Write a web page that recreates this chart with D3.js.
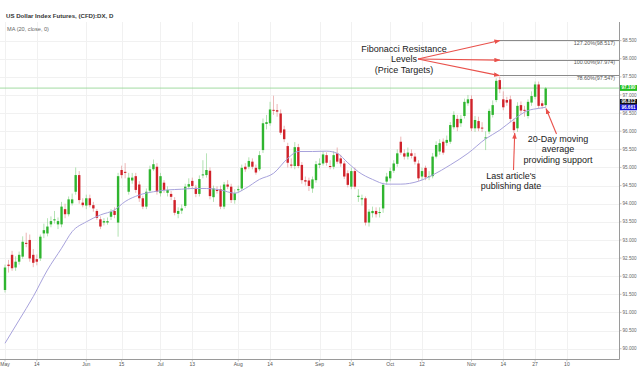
<!DOCTYPE html>
<html><head><meta charset="utf-8">
<script src="https://cdn.jsdelivr.net/npm/d3@7"></script>
<style>
body{margin:0;background:#fff;}
svg{display:block;font-family:"Liberation Sans",Arial,Helvetica,sans-serif;}
</style>
</head><body>
<svg id="c" width="640" height="369"></svg>
<script>
// ---- DATA (daily candles, US Dollar Index Futures, 1 May - 30 Nov 2018) ----
const opens=[91.62,92.32,92.59,92.24,92.40,92.54,92.92,93.00,92.59,92.47,
92.49,93.18,93.18,93.43,93.54,93.43,93.43,93.85,93.71,94.01,
94.33,94.79,94.03,93.95,94.15,93.96,93.80,93.57,93.48,93.48,
93.64,93.80,93.48,94.93,94.88,94.33,94.64,94.76,94.53,94.15,
93.92,94.36,94.95,95.02,94.29,94.58,94.30,94.27,94.10,93.72,
93.81,93.94,94.47,94.63,94.44,94.27,94.78,94.79,94.91,94.18,
94.38,94.40,93.92,94.53,94.47,94.10,94.38,94.42,95.02,95.02,
95.16,94.99,94.95,95.48,96.20,96.22,96.59,96.58,96.49,96.05,
95.59,95.08,95.04,95.56,95.07,94.65,94.64,94.42,94.65,95.07,
95.11,95.34,95.04,95.02,95.39,95.25,95.11,94.84,94.47,94.90,
94.19,94.12,94.15,93.48,93.74,93.80,93.75,93.87,94.61,94.70,
94.91,95.10,95.71,95.39,95.30,95.39,95.30,95.11,94.75,94.99,
94.74,94.76,95.30,95.44,95.71,95.68,95.71,96.11,96.34,96.22,
96.42,96.77,96.89,96.08,96.28,96.10,95.80,95.99,96.45,96.86,
97.41,96.88,96.86,96.88,96.26,96.08,96.72,96.59,96.42,96.79,
96.95,97.29,96.77,96.72];
const highs=[92.32,92.45,92.70,92.55,92.68,93.10,93.20,93.15,92.75,92.60,
93.15,93.45,93.60,93.65,93.80,93.62,94.05,94.00,94.20,94.28,
95.00,94.90,94.15,94.25,94.25,94.05,93.85,93.65,93.60,93.62,
93.85,93.90,94.85,95.05,95.12,94.85,94.85,94.85,94.62,94.22,
94.42,95.05,95.22,95.12,94.85,94.65,94.48,94.35,94.18,93.90,
93.98,94.55,94.70,94.72,94.52,94.78,95.20,95.39,95.00,94.50,
94.48,94.50,94.60,94.65,94.55,94.40,94.50,95.08,95.12,95.28,
95.25,95.08,95.45,96.35,96.45,96.81,96.98,96.75,96.60,96.15,
95.68,95.25,95.70,95.65,95.15,94.75,94.72,94.75,95.18,95.25,
95.45,95.42,95.20,95.45,95.55,95.35,95.18,94.92,95.00,95.00,
94.40,94.25,94.20,93.85,93.92,93.90,93.90,94.58,94.85,95.00,
95.20,95.50,95.85,95.50,95.55,95.50,95.40,95.20,95.00,95.05,
94.90,95.40,95.72,95.78,95.80,95.88,96.25,96.55,96.45,96.45,
96.90,97.00,96.99,96.42,96.40,96.25,96.00,96.62,96.85,97.46,
97.50,97.10,96.95,96.98,96.35,96.80,96.82,96.70,96.88,97.10,
97.37,97.37,96.85,97.22];
const lows=[91.55,92.10,92.15,92.15,92.32,92.48,92.80,92.40,92.25,92.30,
92.42,93.05,93.10,93.35,93.45,93.30,93.35,93.60,93.65,93.95,
94.25,94.00,93.90,93.85,93.90,93.78,93.55,93.30,93.40,93.42,
93.55,93.60,93.09,94.70,94.70,94.25,94.55,94.30,94.05,93.85,
93.85,94.30,94.90,94.25,94.20,94.30,94.20,94.10,93.68,93.60,
93.72,93.88,94.40,94.40,94.18,94.20,94.70,94.72,94.12,94.05,
94.28,93.85,93.85,94.40,94.02,94.00,94.30,94.35,94.88,94.95,
94.95,94.80,94.90,95.40,96.05,96.15,96.45,96.40,95.90,95.70,
95.00,94.98,94.95,94.98,94.55,94.50,94.35,94.30,94.58,94.98,
95.05,95.05,94.95,94.95,95.10,95.02,94.68,94.45,94.40,94.40,
94.05,93.95,93.40,93.37,93.62,93.62,93.62,93.75,94.52,94.62,
94.85,95.02,95.35,95.22,95.22,95.25,95.08,94.62,94.65,94.65,
94.65,94.70,95.25,95.35,95.35,95.60,95.65,96.05,96.00,96.12,
96.35,96.70,96.00,95.98,96.00,95.98,95.48,95.92,96.38,96.80,
97.05,96.58,96.70,96.25,95.95,95.98,96.48,96.40,96.35,96.70,
96.88,96.62,96.62,96.65];
const closes=[92.24,92.28,92.22,92.40,92.59,92.95,92.89,92.49,92.37,92.40,
93.09,93.27,93.37,93.52,93.57,93.52,93.92,93.71,94.12,94.12,
94.79,94.10,93.96,94.15,93.96,93.87,93.61,93.37,93.52,93.52,
93.78,93.69,94.76,94.79,94.85,94.72,94.72,94.38,94.15,93.92,
94.33,94.95,95.09,94.33,94.76,94.38,94.38,94.19,93.75,93.80,
93.87,94.47,94.54,94.49,94.27,94.68,94.81,94.93,94.21,94.42,
94.35,93.92,94.53,94.47,94.10,94.29,94.40,94.99,94.95,95.18,
95.02,94.86,95.34,96.22,96.25,96.60,96.58,96.54,95.96,95.78,
95.13,95.05,95.56,95.04,94.65,94.61,94.49,94.67,95.09,95.11,
95.36,95.13,95.02,95.34,95.16,95.11,94.75,94.52,94.90,94.47,
94.22,94.15,93.48,93.78,93.80,93.71,93.77,94.52,94.75,94.90,
95.11,95.39,95.41,95.30,95.41,95.32,95.16,94.70,94.90,94.73,
94.76,95.30,95.62,95.67,95.41,95.76,96.17,96.45,96.11,96.34,
96.81,96.88,96.08,96.31,96.08,96.08,95.83,96.56,96.72,97.39,
97.16,96.66,96.79,96.34,96.03,96.70,96.57,96.57,96.81,96.97,
97.29,96.70,96.70,97.18];
// MA(20) at candle positions
const maIdx=[0,4,8,12,16,19,23,27,31,34,38,42,46,50,53,57,61,65,68,72,76,80,83,87,91,94,97,100,104,108,112,117,121,126,131,136,140,144,148,151,153];
const maVal=[90.15,90.79,91.44,92.17,92.77,93.23,93.50,93.69,93.83,94.06,94.24,94.33,94.38,94.40,94.42,94.42,94.38,94.29,94.42,94.67,94.84,95.25,95.44,95.44,95.45,95.39,95.13,94.88,94.67,94.54,94.54,94.62,94.79,95.07,95.39,95.79,96.03,96.33,96.57,96.63,96.66];
// axes
const xTickLabels=["May","14","Jun","15","Jul","13","Aug","14","Sep","14","Oct","12","Nov","14","27","10"];
const xTickIdx=[0,9,23,33,44,53,66,75,89,98,109,118,132,141,150,159];
const yTickValues=[90,90.5,91,91.5,92,92.5,93,93.5,94,94.5,95,95.5,96,96.5,97,97.5,98,98.5];
const yTickLabels=["90.000","90.500","91.000","91.500","92.000","92.500","93.000","93.500","94.000","94.500","95.000","95.500","96.000","96.500","97.000","97.500","98.000","98.500"];
// Fibonacci levels
const fibValues=[98.517,97.974,97.547];
const fibLabels=["127.20%(98.517)","100.00%(97.974)","78.60%(97.547)"];
// last-value markers
const lastValues=[97.190,96.812,96.661];
const lastLabels=["97.190","96.812","96.661"];
const lastColors=["#22c022","#111111","#1010d8"];

// ---- DRAW ----
const W=640,H=369, plotRight=619.5, plotBottom=359.5, plotTop=22;
const svg=d3.select("#c");
svg.append("rect").attr("width",W).attr("height",H).attr("fill","#fff");

const x=d3.scaleLinear().domain([0,153]).range([5,545.7]);
const y=d3.scaleLinear().domain([90,98.5]).range([348.7,40.6]);

// grid
const grid=svg.append("g");
grid.selectAll("line.h").data(yTickValues).join("line")
  .attr("x1",0).attr("x2",plotRight).attr("y1",d=>Math.round(y(d))+0.5).attr("y2",d=>Math.round(y(d))+0.5)
  .attr("stroke","#f1f1f1");
grid.selectAll("line.v").data(xTickIdx).join("line")
  .attr("x1",d=>Math.round(x(d))+0.5).attr("x2",d=>Math.round(x(d))+0.5).attr("y1",plotTop).attr("y2",plotBottom)
  .attr("stroke","#f1f1f1");

// fib lines
const fibStart=500;
svg.append("g").selectAll("line").data(fibValues).join("line")
  .attr("x1",fibStart).attr("x2",plotRight).attr("y1",d=>Math.round(y(d))+0.5).attr("y2",d=>Math.round(y(d))+0.5)
  .attr("stroke","#8a8a8a").attr("stroke-width",1);
svg.append("g").selectAll("text").data(fibLabels).join("text")
  .attr("x",615).attr("y",(d,i)=>y(fibValues[i])+4.6)
  .attr("text-anchor","end").attr("font-size",5.4).attr("fill","#555").text(d=>d);

// last price line
svg.append("line").attr("x1",0).attr("x2",plotRight)
  .attr("y1",y(lastValues[0])).attr("y2",y(lastValues[0]))
  .attr("stroke","#98d898").attr("stroke-width",0.9);

// candles
const idx=d3.range(opens.length);
const up=i=>closes[i]>=opens[i];
const gC=svg.append("g");
gC.selectAll("line").data(idx).join("line")
  .attr("x1",i=>x(i)).attr("x2",i=>x(i)).attr("y1",i=>y(highs[i])).attr("y2",i=>y(lows[i]))
  .attr("stroke",i=>up(i)?"#7fcf7f":"#e08585").attr("stroke-width",0.8).attr("opacity",0.75);
gC.selectAll("rect").data(idx).join("rect")
  .attr("x",i=>x(i)-1.2).attr("width",2.4)
  .attr("y",i=>y(Math.max(opens[i],closes[i])))
  .attr("height",i=>Math.max(1,Math.abs(y(opens[i])-y(closes[i]))))
  .attr("fill",i=>up(i)?"#2fb52f":"#d0222a");

// MA line
const maPts=maIdx.map((d,i)=>[x(d),y(maVal[i])]);
svg.append("path").attr("d",d3.line().curve(d3.curveMonotoneX)(maPts))
  .attr("fill","none").attr("stroke","#a7a2dc").attr("stroke-width",1);

// axes lines
svg.append("line").attr("x1",plotRight).attr("x2",plotRight).attr("y1",plotTop).attr("y2",plotBottom).attr("stroke","#9a9a9a");
svg.append("line").attr("x1",0).attr("x2",plotRight).attr("y1",plotBottom).attr("y2",plotBottom).attr("stroke","#9a9a9a");

// y labels
const ya=svg.append("g");
ya.selectAll("line").data(yTickValues).join("line")
  .attr("x1",plotRight).attr("x2",plotRight+2).attr("y1",d=>y(d)).attr("y2",d=>y(d)).attr("stroke","#9a9a9a").attr("stroke-width",0.6);
ya.selectAll("text").data(yTickLabels).join("text")
  .attr("x",622.5).attr("y",(d,i)=>y(yTickValues[i])+1.6)
  .attr("font-size",4.6).attr("fill","#666").text(d=>d);

// x labels
const xa=svg.append("g");
xa.selectAll("line").data(xTickIdx).join("line")
  .attr("x1",d=>x(d)).attr("x2",d=>x(d)).attr("y1",plotBottom).attr("y2",plotBottom+2).attr("stroke","#9a9a9a").attr("stroke-width",0.6);
xa.selectAll("text").data(xTickLabels).join("text")
  .attr("x",(d,i)=>Math.max(x(xTickIdx[i]),5)).attr("y",366.3)
  .attr("text-anchor","middle").attr("font-size",5).attr("fill","#555").text(d=>d);

// value boxes on the right axis
const bx=svg.append("g");
const boxY=[y(lastValues[0])-3, y(lastValues[1])-2.8, y(lastValues[2])-2.8];
bx.selectAll("rect").data(lastValues).join("rect")
  .attr("x",620).attr("width",17).attr("y",(d,i)=>boxY[i]).attr("height",5.8)
  .attr("fill",(d,i)=>lastColors[i]);
bx.selectAll("text").data(lastLabels).join("text")
  .attr("x",628.5).attr("y",(d,i)=>boxY[i]+4.4).attr("text-anchor","middle")
  .attr("font-size",4.6).attr("font-weight","bold").attr("fill","#fff").text(d=>d);

// title
svg.append("text").attr("x",6).attr("y",17.8).attr("font-size",6.1).attr("font-weight","bold").attr("fill","#333")
  .text("US Dollar Index Futures, (CFD):DX, D");
svg.append("text").attr("x",7).attr("y",31).attr("font-size",5.6).attr("fill","#666")
  .text("MA (20, close, 0)");

// annotations
const red="#e9514b";
const defs=svg.append("defs");
defs.append("marker").attr("id","ah").attr("viewBox","0 0 8 6").attr("refX",7.5).attr("refY",3)
  .attr("markerWidth",6).attr("markerHeight",4.5).attr("markerUnits","userSpaceOnUse").attr("orient","auto")
  .append("path").attr("d","M0,0 L8,3 L0,6 Z").attr("fill",red);

const ann=svg.append("g").attr("font-size",9).attr("fill","#222").attr("text-anchor","middle");
[["Fibonacci Resistance",51.5],["Levels",61.8],["(Price Targets)",72.6]].forEach(([t,yy])=>
  ann.append("text").attr("x",404).attr("y",yy).text(t));
[["Last article's",179],["publishing date",189.2]].forEach(([t,yy])=>
  ann.append("text").attr("x",511).attr("y",yy).text(t));
[["20-Day moving",141.6],["average",152.3],["providing support",162.8]].forEach(([t,yy])=>
  ann.append("text").attr("x",558).attr("y",yy).text(t));

const arrows=[
  [418,59,fibStart,y(fibValues[0])+0.5],
  [418,59,fibStart,y(fibValues[1])+0.5],
  [418,59,fibStart-0.5,y(fibValues[2])+0.5],
  [513.5,170,514.7,133],
  [556.5,134,546,108.5]
];
svg.append("g").selectAll("line").data(arrows).join("line")
  .attr("x1",d=>d[0]).attr("y1",d=>d[1]).attr("x2",d=>d[2]).attr("y2",d=>d[3])
  .attr("stroke",red).attr("stroke-width",1.1).attr("marker-end","url(#ah)");
</script>
</body></html>
